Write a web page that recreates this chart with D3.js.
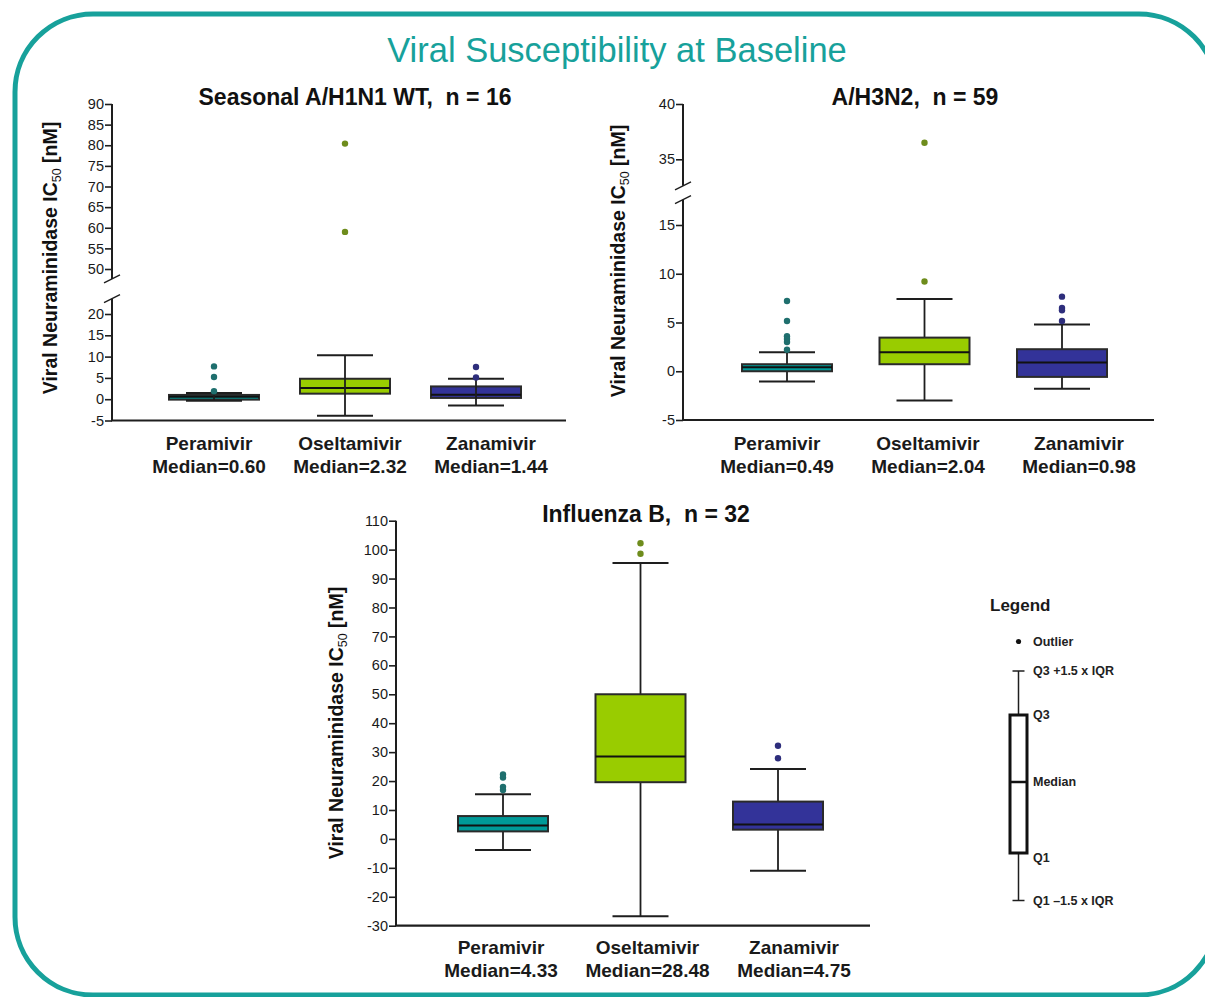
<!DOCTYPE html>
<html><head><meta charset="utf-8">
<script src="https://cdn.jsdelivr.net/npm/d3@7"></script>
<style>
html,body{margin:0;padding:0;background:#fff;}
svg{display:block;}
text{font-family:"Liberation Sans",Arial,sans-serif;}
</style></head>
<body>
<svg id="chart" width="1205" height="997"></svg>
<script>
// ---------------- DATA ----------------
const drugs = ["Peramivir", "Oseltamivir", "Zanamivir"];
const mainTitle = "Viral Susceptibility at Baseline";
const yLabelMain = "Viral Neuraminidase IC";
const yLabelSub = "50";
const yLabelTail = " [nM]";

// Seasonal A/H1N1 WT, n = 16
const h1n1Title = "Seasonal A/H1N1 WT,  n = 16";
const h1n1MedianLabels = ["0.60", "2.32", "1.44"];
const h1n1Lo = [-0.35, -3.9, -1.45];
const h1n1Q1 = [-0.1, 1.3, 0.3];
const h1n1Med = [0.6, 2.6, 1.05];
const h1n1Q3 = [1.0, 4.8, 3.0];
const h1n1Hi = [1.45, 10.3, 4.8];
const h1n1Out = [[7.7, 5.2, 1.85], [80.4, 59.0], [7.55, 5.1]];
const h1n1TicksLow = [-5, 0, 5, 10, 15, 20];
const h1n1TicksHigh = [50, 55, 60, 65, 70, 75, 80, 85, 90];

// A/H3N2, n = 59
const h3n2Title = "A/H3N2,  n = 59";
const h3n2MedianLabels = ["0.49", "2.04", "0.98"];
const h3n2Lo = [-1.05, -3.0, -1.8];
const h3n2Q1 = [0.0, 0.72, -0.58];
const h3n2Med = [0.42, 1.95, 0.9];
const h3n2Q3 = [0.72, 3.45, 2.26];
const h3n2Hi = [1.95, 7.4, 4.8];
const h3n2Out = [[7.2, 5.15, 3.6, 3.3, 3.0, 2.2], [9.2, 36.5], [7.65, 6.5, 6.25, 5.15]];
const h3n2TicksLow = [-5, 0, 5, 10, 15];
const h3n2TicksHigh = [35, 40];

// Influenza B, n = 32
const fluBTitle = "Influenza B,  n = 32";
const fluBMedianLabels = ["4.33", "28.48", "4.75"];
const fluBLo = [-3.8, -26.7, -11.0];
const fluBQ1 = [2.6, 19.6, 3.2];
const fluBMed = [4.6, 28.5, 5.0];
const fluBQ3 = [7.9, 50.0, 12.9];
const fluBHi = [15.4, 95.4, 24.2];
const fluBOut = [[22.3, 21.2, 18.0, 16.9], [102.2, 98.6], [32.2, 27.9]];
const fluBTicks = [-30, -20, -10, 0, 10, 20, 30, 40, 50, 60, 70, 80, 90, 100, 110];

// Legend
const legendTitle = "Legend";
const legendLabels = ["Outlier", "Q3 +1.5 x IQR", "Q3", "Median", "Q1", "Q1 \u20131.5 x IQR"];

// ---------------- STYLE ----------------
const teal = "#17a19b";
const boxFill = ["#009a98", "#99cc00", "#333399"];
const dotFill = ["#1f6f6e", "#6e8c1c", "#2e2e7c"];
const ink = "#1e1e1e";

const svg = d3.select("#chart");

// border
svg.append("rect")
  .attr("x", 15).attr("y", 14).attr("width", 1202).attr("height", 981)
  .attr("rx", 78).attr("ry", 78)
  .attr("fill", "none").attr("stroke", teal).attr("stroke-width", 5);

svg.append("text")
  .attr("x", 617).attr("y", 62)
  .attr("text-anchor", "middle")
  .attr("font-size", 34.5)
  .attr("fill", teal)
  .text(mainTitle);

function makePanel(cfg) {
  const g = svg.append("g");
  const segs = cfg.segments.map(s => ({
    ...s,
    scale: d3.scaleLinear().domain(s.domain).range(s.range)
  }));
  const yOf = v => {
    for (const s of segs) {
      if (v >= s.cover[0] && v <= s.cover[1]) return s.scale(v);
    }
    return segs[0].scale(v);
  };
  const x = d3.scalePoint().domain(drugs).range(cfg.centers);
  const xl = d3.scalePoint().domain(drugs).range(cfg.labelCenters);

  // axes
  segs.forEach(s => {
    const ax = g.append("g")
      .attr("transform", `translate(${cfg.axisX},0)`)
      .call(d3.axisLeft(s.scale).tickValues(s.ticks).tickSize(7).tickSizeOuter(0).tickPadding(1)
        .tickFormat(d => String(d)));
    ax.select(".domain").remove();
    ax.selectAll(".tick line").attr("stroke", ink).attr("stroke-width", 1.6);
    ax.selectAll(".tick text").attr("font-size", 14.5).attr("fill", "#1a1a1a")
      .attr("font-family", "'Liberation Sans', Arial, sans-serif");
    g.append("line")
      .attr("x1", cfg.axisX).attr("x2", cfg.axisX)
      .attr("y1", s.scale(s.cover[0])).attr("y2", s.scale(s.cover[1]))
      .attr("stroke", ink).attr("stroke-width", 2);
  });
  // break marks
  if (segs.length > 1) {
    const yb1 = segs[1].scale(segs[1].cover[0]);
    const yb2 = segs[0].scale(segs[0].cover[1]);
    [yb1, yb2].forEach(yb => {
      g.append("line")
        .attr("x1", cfg.axisX - 8).attr("y1", yb + 4)
        .attr("x2", cfg.axisX + 8).attr("y2", yb - 4)
        .attr("stroke", ink).attr("stroke-width", 1.5);
    });
  }
  // x axis line
  const yBase = segs[0].scale(segs[0].domain[0]);
  g.append("line")
    .attr("x1", cfg.axisX - 1).attr("x2", cfg.axisEnd)
    .attr("y1", yBase).attr("y2", yBase)
    .attr("stroke", ink).attr("stroke-width", 2.2);

  // x labels
  drugs.forEach((d, i) => {
    const t = g.append("text")
      .attr("x", xl(d)).attr("y", cfg.xLabelY)
      .attr("text-anchor", "middle")
      .attr("font-size", 19).attr("font-weight", "bold").attr("fill", "#1a1a1a");
    t.append("tspan").attr("x", xl(d)).text(d);
    t.append("tspan").attr("x", xl(d)).attr("dy", 22.5).text("Median=" + cfg.medianLabels[i]);
  });

  // title
  g.append("text")
    .attr("x", cfg.titleX).attr("y", cfg.titleY)
    .attr("text-anchor", "middle")
    .attr("font-size", 23).attr("font-weight", "bold").attr("fill", "#111")
    .style("white-space", "pre")
    .text(cfg.title);

  // y label
  const yl = g.append("text")
    .attr("transform", `translate(${cfg.yLabelX},${cfg.yLabelY}) rotate(-90)`)
    .attr("text-anchor", "middle")
    .attr("font-size", 19.5).attr("font-weight", "bold").attr("fill", "#111")
    .style("white-space", "pre");
  yl.append("tspan").text(yLabelMain);
  yl.append("tspan").attr("font-size", 12.5).attr("font-weight", "normal").attr("dy", 4).text(yLabelSub);
  yl.append("tspan").attr("dy", -4).text(yLabelTail);

  // boxes
  const bw = 90, cw = 56;
  drugs.forEach((d, i) => {
    const cx = x(d);
    const lo = cfg.lo[i], q1 = cfg.q1[i], med = cfg.med[i], q3 = cfg.q3[i], hi = cfg.hi[i];
    const wl = (a, b) => g.append("line").attr("x1", cx).attr("x2", cx)
      .attr("y1", yOf(a)).attr("y2", yOf(b)).attr("stroke", ink).attr("stroke-width", 1.8);
    if (!cfg.through) { wl(q3, hi); wl(lo, q1); }
    g.append("rect")
      .attr("x", cx - bw / 2).attr("width", bw)
      .attr("y", yOf(q3)).attr("height", Math.max(1, yOf(q1) - yOf(q3)))
      .attr("fill", boxFill[i]).attr("stroke", "#2a2a2a").attr("stroke-width", 2);
    g.append("line")
      .attr("x1", cx - bw / 2).attr("x2", cx + bw / 2)
      .attr("y1", yOf(med)).attr("y2", yOf(med))
      .attr("stroke", "#111").attr("stroke-width", 2);
    if (cfg.through) wl(lo, hi);
    [lo, hi].forEach(v => {
      g.append("line")
        .attr("x1", cx - cw / 2).attr("x2", cx + cw / 2)
        .attr("y1", yOf(v)).attr("y2", yOf(v))
        .attr("stroke", ink).attr("stroke-width", 2);
    });
    cfg.out[i].forEach(v => {
      g.append("circle").attr("cx", cx).attr("cy", yOf(v)).attr("r", 3.2)
        .attr("fill", dotFill[i]);
    });
  });
}

makePanel({
  title: h1n1Title, titleX: 355, titleY: 105,
  axisX: 112, axisEnd: 566, centers: [214, 476], labelCenters: [209, 491],
  segments: [
    { domain: [-5, 20], range: [420.5, 314], ticks: h1n1TicksLow, cover: [-5, 23.6] },
    { domain: [50, 90], range: [269, 104], ticks: h1n1TicksHigh, cover: [47.6, 90] }
  ],
  xLabelY: 450, yLabelX: 57, yLabelY: 258,
  medianLabels: h1n1MedianLabels,
  lo: h1n1Lo, q1: h1n1Q1, med: h1n1Med, q3: h1n1Q3, hi: h1n1Hi, out: h1n1Out,
  through: true
});

makePanel({
  title: h3n2Title, titleX: 915, titleY: 105,
  axisX: 683, axisEnd: 1154, centers: [787, 1062], labelCenters: [777, 1079],
  segments: [
    { domain: [-5, 15], range: [420, 225], ticks: h3n2TicksLow, cover: [-5, 17.6] },
    { domain: [35, 40], range: [159.3, 104], ticks: h3n2TicksHigh, cover: [32.6, 40] }
  ],
  xLabelY: 450, yLabelX: 625, yLabelY: 261,
  medianLabels: h3n2MedianLabels,
  lo: h3n2Lo, q1: h3n2Q1, med: h3n2Med, q3: h3n2Q3, hi: h3n2Hi, out: h3n2Out,
  through: false
});

makePanel({
  title: fluBTitle, titleX: 646, titleY: 522,
  axisX: 396, axisEnd: 870, centers: [503, 778], labelCenters: [501, 794],
  segments: [
    { domain: [-30, 110], range: [925.7, 520.7], ticks: fluBTicks, cover: [-30, 110] }
  ],
  xLabelY: 954, yLabelX: 343, yLabelY: 723,
  medianLabels: fluBMedianLabels,
  lo: fluBLo, q1: fluBQ1, med: fluBMed, q3: fluBQ3, hi: fluBHi, out: fluBOut,
  through: false
});

// ---------------- LEGEND ----------------
const lg = svg.append("g");
lg.append("text").attr("x", 990).attr("y", 611)
  .attr("font-size", 17).attr("font-weight", "bold").attr("fill", "#1a1a1a").text(legendTitle);
const lx = 1018.5;
const ly = { out: 641.5, hi: 671, q3: 715, med: 782, q1: 853, lo: 900.5 };
lg.append("circle").attr("cx", lx).attr("cy", ly.out).attr("r", 2.6).attr("fill", "#111");
lg.append("line").attr("x1", lx).attr("x2", lx).attr("y1", ly.hi).attr("y2", ly.lo)
  .attr("stroke", ink).attr("stroke-width", 1.5);
[ly.hi, ly.lo].forEach(v => lg.append("line").attr("x1", lx - 6).attr("x2", lx + 6)
  .attr("y1", v).attr("y2", v).attr("stroke", ink).attr("stroke-width", 1.5));
lg.append("rect").attr("x", lx - 8.5).attr("y", ly.q3).attr("width", 17).attr("height", ly.q1 - ly.q3)
  .attr("fill", "#fff").attr("stroke", "#111").attr("stroke-width", 3);
lg.append("line").attr("x1", lx - 8.5).attr("x2", lx + 8.5).attr("y1", ly.med).attr("y2", ly.med)
  .attr("stroke", "#111").attr("stroke-width", 2.5);
const labY = [ly.out, ly.hi, ly.q3, ly.med, ly.q1 + 5, ly.lo];
legendLabels.forEach((t, i) => {
  lg.append("text").attr("x", 1033).attr("y", labY[i]).attr("dy", "0.35em")
    .attr("font-size", 12.5).attr("font-weight", "bold").attr("fill", "#222")
    .attr("font-family", "'Liberation Sans Narrow','Liberation Sans',Arial,sans-serif")
    .text(t);
});
</script>
</body></html>
